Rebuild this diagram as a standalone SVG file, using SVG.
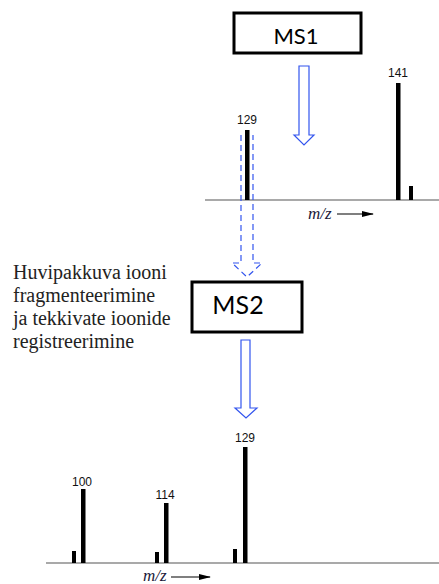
<svg xmlns="http://www.w3.org/2000/svg" width="439" height="584" viewBox="0 0 439 584">
<style>
.box{fill:#fff;stroke:#000;stroke-width:3}
.boxt{font-family:Lato,"Open Sans",sans-serif;fill:#000;text-anchor:middle}
.bar{fill:#000}
.axis{stroke:#555;stroke-width:1.2;fill:none}
.lbl{font-family:"Liberation Sans",Arial,sans-serif;font-size:12px;fill:#111;text-anchor:middle}
.mz{font-style:italic;font-size:17px;fill:#1a1a3a}
.hollow{fill:#fff;stroke:#3355ee;stroke-width:1.2}
.dash{fill:none;stroke:#3355ee;stroke-width:1.2;stroke-dasharray:6 4}
.desc{font-size:20px;fill:#222}
</style>
<defs>
<marker id="ah" markerWidth="12" markerHeight="8" refX="11" refY="4" orient="auto" markerUnits="userSpaceOnUse">
<path d="M0,1 L12,4 L0,7 Z" fill="#000"/>
</marker>
</defs>

<g id="ms1">
<rect class="box" x="234" y="13" width="127" height="40"/>
<text class="boxt" x="296" y="44" font-size="22">MS1</text>
</g>

<g id="ms2">
<rect class="box" x="192" y="282" width="110" height="50"/>
<text class="boxt" x="238" y="314" font-size="25">MS2</text>
</g>

<g id="description">
<text class="desc" x="13" y="279" font-family="Liberation Serif, serif">Huvipakkuva iooni</text>
<text class="desc" x="13" y="302" font-family="Liberation Serif, serif">fragmenteerimine</text>
<text class="desc" x="13" y="325" font-family="Liberation Serif, serif">ja tekkivate ioonide</text>
<text class="desc" x="13" y="348" font-family="Liberation Serif, serif">registreerimine</text>
</g>

<g id="spectrum1">
<line class="axis" x1="205" y1="200" x2="439" y2="200"/>
<rect class="bar" x="245" y="130" width="4.5" height="70"/>
<rect class="bar" x="396" y="83" width="4.5" height="117"/>
<rect class="bar" x="409" y="186" width="4" height="14"/>
<text class="lbl" x="247" y="124">129</text>
<text class="lbl" x="398" y="77">141</text>
<text class="mz" x="308" y="219" font-family="Liberation Serif, serif">m/z</text>
<line x1="337" y1="214" x2="373" y2="214" stroke="#000" stroke-width="1.2" marker-end="url(#ah)"/>
</g>

<g id="spectrum2">
<line class="axis" x1="46" y1="563" x2="439" y2="563"/>
<rect class="bar" x="72" y="551" width="4" height="12"/>
<rect class="bar" x="81" y="489" width="4.5" height="74"/>
<rect class="bar" x="155" y="552" width="4" height="11"/>
<rect class="bar" x="164" y="503" width="4.5" height="60"/>
<rect class="bar" x="233" y="549" width="4" height="14"/>
<rect class="bar" x="243" y="447" width="4.5" height="116"/>
<text class="lbl" x="82" y="486">100</text>
<text class="lbl" x="165" y="499">114</text>
<text class="lbl" x="245" y="442">129</text>
<text class="mz" x="143" y="581" font-family="Liberation Serif, serif">m/z</text>
<line x1="171" y1="577" x2="210" y2="577" stroke="#000" stroke-width="1.2" marker-end="url(#ah)"/>
</g>

<g id="connectors">
<path class="hollow" d="M299,66 L309,66 L309,135 L314,135 L304,145 L294,135 L299,135 Z"/>
<path class="dash" d="M241,135 L241,263 L232,263 L247,277 L262,263 L253,263 L253,135"/>
<path class="hollow" d="M241,340 L250,340 L250,408 L257,408 L246,418 L235,408 L241,408 Z"/>
</g>
</svg>
